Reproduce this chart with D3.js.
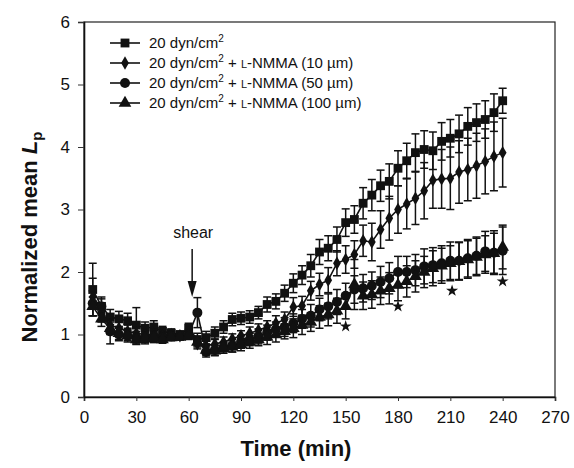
<!DOCTYPE html>
<html><head><meta charset="utf-8">
<script src="https://cdn.jsdelivr.net/npm/d3@7"></script>
<style>
body{margin:0;background:#fff}
svg{display:block;font-family:Arial,"Liberation Sans",Helvetica,sans-serif}
</style>
</head><body>
<svg id="chart" width="574" height="468"></svg>
<script>
const times = [5,10,15,20,25,30,35,40,45,50,55,60,65,70,75,80,85,90,95,100,105,110,115,120,125,130,135,140,145,150,155,160,165,170,175,180,185,190,195,200,205,210,215,220,225,230,235,240];

const ctrlMean = [1.72,1.45,1.28,1.25,1.22,1.15,1.1,1.12,1.05,1.02,1.0,1.1,0.92,0.95,1.02,1.12,1.24,1.26,1.28,1.35,1.48,1.53,1.66,1.82,1.95,2.1,2.32,2.38,2.52,2.79,2.84,3.1,3.23,3.38,3.45,3.66,3.78,3.91,3.96,3.94,4.09,4.14,4.21,4.33,4.39,4.44,4.55,4.74];
const ctrlErr = [0.42,0.15,0.12,0.12,0.12,0.28,0.1,0.1,0.08,0.07,0.05,0.08,0.1,0.1,0.1,0.1,0.1,0.1,0.1,0.1,0.12,0.12,0.13,0.15,0.15,0.18,0.2,0.2,0.2,0.22,0.22,0.25,0.25,0.25,0.28,0.28,0.28,0.3,0.3,0.3,0.3,0.3,0.3,0.3,0.3,0.3,0.3,0.2];

const nm10Mean = [1.6,1.35,1.15,1.1,1.05,1.02,1.0,1.0,0.98,1.0,0.98,1.02,0.85,0.82,0.85,0.88,0.93,0.98,1.02,1.07,1.12,1.18,1.24,1.44,1.46,1.7,1.8,1.87,2.14,2.2,2.28,2.5,2.48,2.68,2.86,3.0,3.09,3.18,3.3,3.47,3.49,3.5,3.6,3.64,3.7,3.77,3.85,3.91];
const nm10Err = [0.3,0.15,0.1,0.1,0.1,0.1,0.08,0.08,0.06,0.05,0.05,0.06,0.08,0.08,0.08,0.08,0.08,0.08,0.1,0.1,0.1,0.12,0.12,0.15,0.15,0.15,0.18,0.2,0.2,0.22,0.22,0.25,0.3,0.3,0.35,0.38,0.4,0.42,0.45,0.45,0.47,0.5,0.5,0.5,0.52,0.52,0.55,0.55];

const nm50Mean = [1.5,1.45,1.05,1.0,0.98,0.95,0.95,0.97,0.95,0.97,0.98,1.0,1.35,0.72,0.75,0.8,0.82,0.88,0.92,0.97,1.03,1.08,1.12,1.18,1.25,1.3,1.4,1.45,1.52,1.62,1.72,1.74,1.78,1.84,1.9,2.0,2.0,2.03,2.09,2.11,2.14,2.18,2.18,2.22,2.26,2.33,2.31,2.34];
const nm50Err = [0.2,0.12,0.2,0.1,0.1,0.1,0.08,0.08,0.06,0.05,0.05,0.06,0.24,0.08,0.08,0.08,0.1,0.1,0.1,0.12,0.12,0.12,0.15,0.15,0.15,0.18,0.18,0.2,0.2,0.2,0.22,0.22,0.22,0.25,0.25,0.25,0.25,0.25,0.28,0.28,0.28,0.3,0.3,0.3,0.3,0.32,0.35,0.38];

const nm100Mean = [1.45,1.25,1.1,1.02,0.98,0.92,0.93,0.95,0.92,0.95,0.96,0.98,0.88,0.75,0.74,0.78,0.8,0.84,0.88,0.92,0.96,1.0,1.05,1.1,1.15,1.2,1.28,1.32,1.38,1.45,1.8,1.62,1.64,1.7,1.74,1.79,1.85,1.93,2.0,2.06,2.1,2.14,2.17,2.2,2.24,2.28,2.3,2.4];
const nm100Err = [0.15,0.12,0.1,0.1,0.08,0.08,0.08,0.08,0.06,0.05,0.05,0.06,0.08,0.08,0.08,0.08,0.08,0.1,0.1,0.1,0.12,0.12,0.12,0.15,0.15,0.15,0.18,0.18,0.2,0.2,0.4,0.22,0.22,0.22,0.25,0.25,0.25,0.25,0.25,0.28,0.28,0.28,0.3,0.3,0.3,0.3,0.32,0.35];

const seriesLabels = ["20 dyn/cm2", "20 dyn/cm2 + L-NMMA (10 µm)", "20 dyn/cm2 + L-NMMA (50 µm)", "20 dyn/cm2 + L-NMMA (100 µm)"];
const xTicks = [0,30,60,90,120,150,180,210,240,270];
const yTicks = [0,1,2,3,4,5,6];
const starTimes = [150,180,211,240];
const starValues = [1.13,1.45,1.7,1.85];
const shearTime = 62;

const svg = d3.select("#chart");
const M = {left:84, right:555, top:22, bottom:397};
const x = d3.scaleLinear().domain([0,270]).range([M.left, M.right]);
const y = d3.scaleLinear().domain([0,6]).range([M.bottom, M.top]);

// frame
svg.append("rect").attr("x",M.left).attr("y",M.top).attr("width",M.right-M.left).attr("height",M.bottom-M.top)
  .attr("fill","none").attr("stroke","#222").attr("stroke-width",1.2);

const xAxis = svg.append("g").attr("transform",`translate(0,${M.bottom})`)
  .call(d3.axisBottom(x).tickValues(xTicks).tickSize(4).tickPadding(10).tickFormat(d3.format("d")));
const yAxis = svg.append("g").attr("transform",`translate(${M.left},0)`)
  .call(d3.axisLeft(y).tickValues(yTicks).tickSize(6).tickPadding(8).tickFormat(d3.format("d")));
[xAxis,yAxis].forEach(g=>{
  g.select(".domain").attr("stroke","#111").attr("stroke-width",1.6);
  g.selectAll(".tick line").attr("stroke","#333").attr("stroke-width",1);
  g.selectAll(".tick text").attr("font-size",17).attr("fill","#111").attr("font-family","Arial, 'Liberation Sans', sans-serif");
});

// axis titles
svg.append("text").attr("x",296).attr("y",456).attr("text-anchor","middle")
  .attr("font-size",22).attr("font-weight","bold").attr("fill","#111").text("Time (min)");
const yt = svg.append("text").attr("transform",`translate(37,237) rotate(-90)`)
  .attr("text-anchor","middle").attr("font-size",22).attr("font-weight","bold").attr("fill","#111");
yt.append("tspan").text("Normalized mean ");
yt.append("tspan").attr("font-style","italic").text("L");
yt.append("tspan").attr("font-size",15).attr("dy",5).text("p");

const series = [
  {mean:ctrlMean, err:ctrlErr, sym:d3.symbolSquare, size:78},
  {mean:nm10Mean, err:nm10Err, sym:d3.symbolDiamond, size:52},
  {mean:nm50Mean, err:nm50Err, sym:d3.symbolCircle, size:78},
  {mean:nm100Mean, err:nm100Err, sym:d3.symbolTriangle, size:70}
];

const line = d3.line().x(d=>x(d.t)).y(d=>y(d.v));
series.forEach(s=>{
  const pts = times.map((t,i)=>({t, v:s.mean[i], e:s.err[i]}));
  const g = svg.append("g");
  const eb = g.selectAll(".eb").data(pts).enter().append("g").attr("stroke","#111").attr("stroke-width",1.5);
  eb.append("line").attr("x1",d=>x(d.t)).attr("x2",d=>x(d.t)).attr("y1",d=>y(d.v+d.e)).attr("y2",d=>y(d.v-d.e));
  eb.append("line").attr("x1",d=>x(d.t)-4).attr("x2",d=>x(d.t)+4).attr("y1",d=>y(d.v+d.e)).attr("y2",d=>y(d.v+d.e));
  eb.append("line").attr("x1",d=>x(d.t)-4).attr("x2",d=>x(d.t)+4).attr("y1",d=>y(d.v-d.e)).attr("y2",d=>y(d.v-d.e));
  g.append("path").datum(pts).attr("d",line).attr("fill","none").attr("stroke","#111").attr("stroke-width",1.6);
  g.selectAll(".mk").data(pts).enter().append("path")
    .attr("transform",d=>`translate(${x(d.t)},${y(d.v)})`)
    .attr("d",d3.symbol().type(s.sym).size(s.size)).attr("fill","#111");
});

// stars
svg.selectAll(".star").data(starTimes.map((t,i)=>({t,v:starValues[i]}))).enter().append("path")
  .attr("transform",d=>`translate(${x(d.t)},${y(d.v)})`)
  .attr("d",d3.symbol().type(d3.symbolStar).size(45)).attr("fill","#111");

// shear annotation
const sx = x(shearTime);
svg.append("text").attr("x",sx+1).attr("y",238).attr("text-anchor","middle").attr("font-size",16).attr("fill","#111").text("shear");
svg.append("line").attr("x1",sx).attr("x2",sx).attr("y1",249).attr("y2",284).attr("stroke","#111").attr("stroke-width",1.5);
svg.append("path").attr("d",`M${sx-4.5},${281}L${sx+4.5},${281}L${sx},${297}Z`).attr("fill","#111");

// legend
const lg = svg.append("g");
seriesLabels.forEach((lab,i)=>{
  const ly = 43 + i*20;
  lg.append("line").attr("x1",110).attr("x2",140).attr("y1",ly).attr("y2",ly).attr("stroke","#111").attr("stroke-width",1.6);
  lg.append("path").attr("transform",`translate(125,${ly})`).attr("d",d3.symbol().type(series[i].sym).size(series[i].size)).attr("fill","#111");
  const t = lg.append("text").attr("x",149).attr("y",ly+5).attr("font-size",15).attr("fill","#111");
  t.append("tspan").text("20 dyn/cm");
  t.append("tspan").attr("font-size",10).attr("dy",-6).text("2");
  if (lab.includes("NMMA")) {
    const rest = lab.slice(lab.indexOf("+"));
    const conc = rest.slice(rest.indexOf("("));
    t.append("tspan").attr("dy",6).text(" + ");
    t.append("tspan").attr("font-size",11).text("L");
    t.append("tspan").text("-NMMA " + conc);
  }
});
</script>
</body></html>
